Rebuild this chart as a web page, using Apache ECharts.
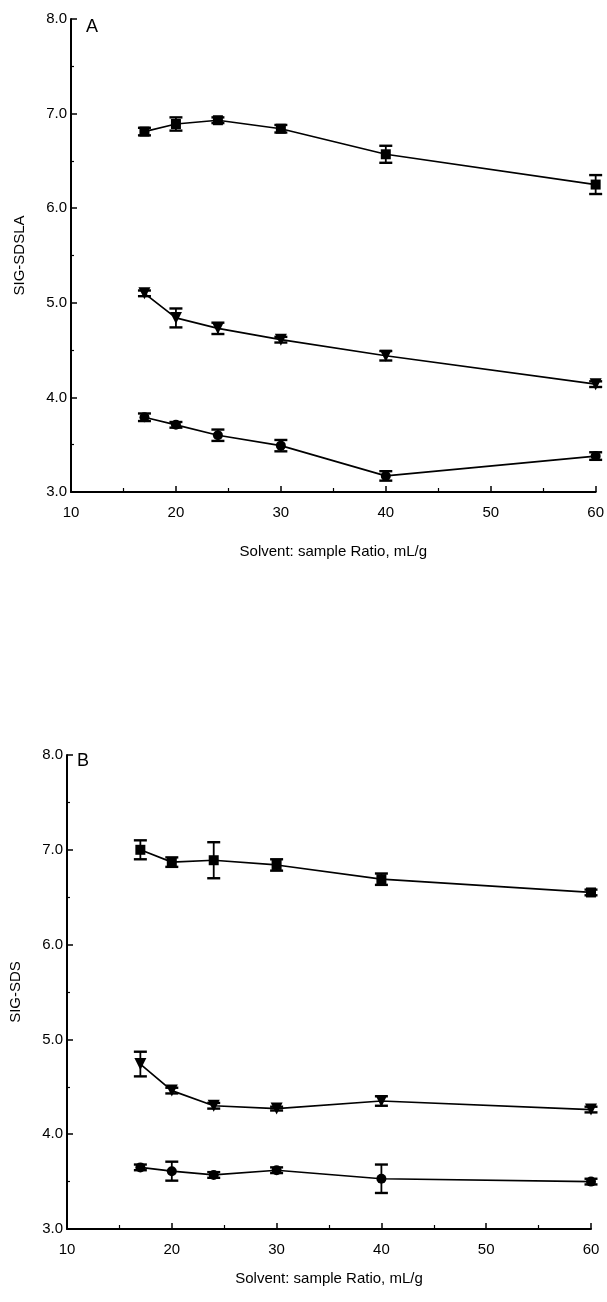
<!DOCTYPE html>
<html>
<head>
<meta charset="utf-8">
<script src="https://cdn.jsdelivr.net/npm/echarts@6/dist/echarts.min.js"></script>
<style>
  html, body { margin: 0; padding: 0; background: #fff; }
  #chart { width: 607px; height: 1302px; }
</style>
</head>
<body>
<div id="chart"></div>
<script>
// solvent : sample ratio (mL/g)
const ratios = [17, 20, 24, 30, 40, 60];

// panel A - SIG-SDSLA
const aSquare = [6.81, 6.89, 6.93, 6.84, 6.57, 6.25];
const aSquareErr = [0.04, 0.07, 0.03, 0.04, 0.09, 0.10];
const aTriangle = [5.10, 4.84, 4.73, 4.61, 4.44, 4.14];
const aTriangleErr = [0.03, 0.10, 0.06, 0.03, 0.05, 0.03];
const aCircle = [3.79, 3.71, 3.60, 3.49, 3.17, 3.38];
const aCircleErr = [0.04, 0.03, 0.06, 0.06, 0.05, 0.04];

// panel B - SIG-SDS
const bSquare = [7.00, 6.87, 6.89, 6.84, 6.69, 6.55];
const bSquareErr = [0.10, 0.05, 0.19, 0.06, 0.06, 0.03];
const bTriangle = [4.74, 4.46, 4.30, 4.27, 4.35, 4.26];
const bTriangleErr = [0.13, 0.03, 0.03, 0.02, 0.05, 0.03];
const bCircle = [3.65, 3.61, 3.57, 3.62, 3.53, 3.50];
const bCircleErr = [0.03, 0.10, 0.03, 0.03, 0.15, 0.03];

const yTicks = ['3.0', '4.0', '5.0', '6.0', '7.0', '8.0'];
const xTicks = ['10', '20', '30', '40', '50', '60'];

const font = 'Liberation Sans';

//误差线
function errorSeries(idx, vals, errs) {
  return {
    type: 'custom',
    xAxisIndex: idx,
    yAxisIndex: idx,
    z: 3,
    encode: { x: 0, y: [1, 2] },
    data: ratios.map((r, i) => [r, vals[i] - errs[i], vals[i] + errs[i]]),
    renderItem(params, api) {
      const top = api.coord([api.value(0), api.value(2)]);
      const bot = api.coord([api.value(0), api.value(1)]);
      const hw = 6.5;
      const st = { stroke: '#000', lineWidth: 1.8 };
      const cap = { stroke: '#000', lineWidth: 2.4 };
      return {
        type: 'group',
        children: [
          { type: 'line', shape: { x1: top[0], y1: top[1], x2: bot[0], y2: bot[1] }, style: st },
          { type: 'line', shape: { x1: top[0] - hw, y1: top[1], x2: top[0] + hw, y2: top[1] }, style: cap },
          { type: 'line', shape: { x1: bot[0] - hw, y1: bot[1], x2: bot[0] + hw, y2: bot[1] }, style: cap }
        ]
      };
    }
  };
}

function lineSeries(idx, vals, symbol) {
  return {
    type: 'line',
    xAxisIndex: idx,
    yAxisIndex: idx,
    z: 4,
    data: ratios.map((r, i) => [r, vals[i]]),
    symbol: symbol,
    symbolRotate: symbol === 'triangle' ? 180 : 0,
    symbolSize: symbol === 'triangle' ? 12 : 10,
    showSymbol: true,
    lineStyle: { color: '#000', width: 1.7 },
    itemStyle: { color: '#000', borderWidth: 0 },
    animation: false
  };
}

function xAxis(idx, gap) {
  return {
    type: 'value',
    gridIndex: idx,
    min: 10, max: 60, interval: 10,
    name: 'Solvent: sample Ratio, mL/g',
    nameLocation: 'middle',
    nameGap: gap,
    nameTextStyle: { fontFamily: font, fontSize: 15, color: '#000' },
    axisLine: { lineStyle: { color: '#000', width: 2 } },
    axisTick: { inside: true, length: 6, lineStyle: { color: '#000', width: 1.5 } },
    minorTick: { show: true, splitNumber: 2, length: 4, lineStyle: { color: '#000', width: 1.2 } },
    splitLine: { show: false },
    axisLabel: {
      fontFamily: font, fontSize: 15, color: '#000', margin: 13,
      formatter: v => xTicks[(v - 10) / 10]
    }
  };
}

function yAxis(idx, title) {
  return {
    type: 'value',
    gridIndex: idx,
    min: 3, max: 8, interval: 1,
    name: title,
    nameLocation: 'middle',
    nameGap: 44,
    nameTextStyle: { fontFamily: font, fontSize: 15, color: '#000' },
    axisLine: { lineStyle: { color: '#000', width: 2 } },
    axisTick: { inside: true, length: 6, lineStyle: { color: '#000', width: 1.5 } },
    minorTick: { show: true, splitNumber: 2, length: 3, lineStyle: { color: '#000', width: 1.2 } },
    splitLine: { show: false },
    axisLabel: {
      fontFamily: font, fontSize: 15, color: '#000', margin: 4,
      formatter: v => yTicks[v - 3]
    }
  };
}

const chart = echarts.init(document.getElementById('chart'), null, { renderer: 'canvas' });
chart.setOption({
  backgroundColor: '#fff',
  animation: false,
  grid: [
    { left: 71, right: 11, top: 19, height: 473 },
    { left: 66, right: 16, top: 755, height: 474 }
  ],
  xAxis: [xAxis(0, 52), xAxis(1, 42)],
  yAxis: [yAxis(0, 'SIG-SDSLA'), yAxis(1, 'SIG-SDS')],
  graphic: [
    { type: 'text', left: 86, top: 18, style: { text: 'A', font: '18px ' + font, fill: '#000' } },
    { type: 'text', left: 77, top: 752, style: { text: 'B', font: '18px ' + font, fill: '#000' } }
  ],
  series: [
    errorSeries(0, aSquare, aSquareErr), lineSeries(0, aSquare, 'rect'),
    errorSeries(0, aTriangle, aTriangleErr), lineSeries(0, aTriangle, 'triangle'),
    errorSeries(0, aCircle, aCircleErr), lineSeries(0, aCircle, 'circle'),
    errorSeries(1, bSquare, bSquareErr), lineSeries(1, bSquare, 'rect'),
    errorSeries(1, bTriangle, bTriangleErr), lineSeries(1, bTriangle, 'triangle'),
    errorSeries(1, bCircle, bCircleErr), lineSeries(1, bCircle, 'circle')
  ]
});
</script>
</body>
</html>
